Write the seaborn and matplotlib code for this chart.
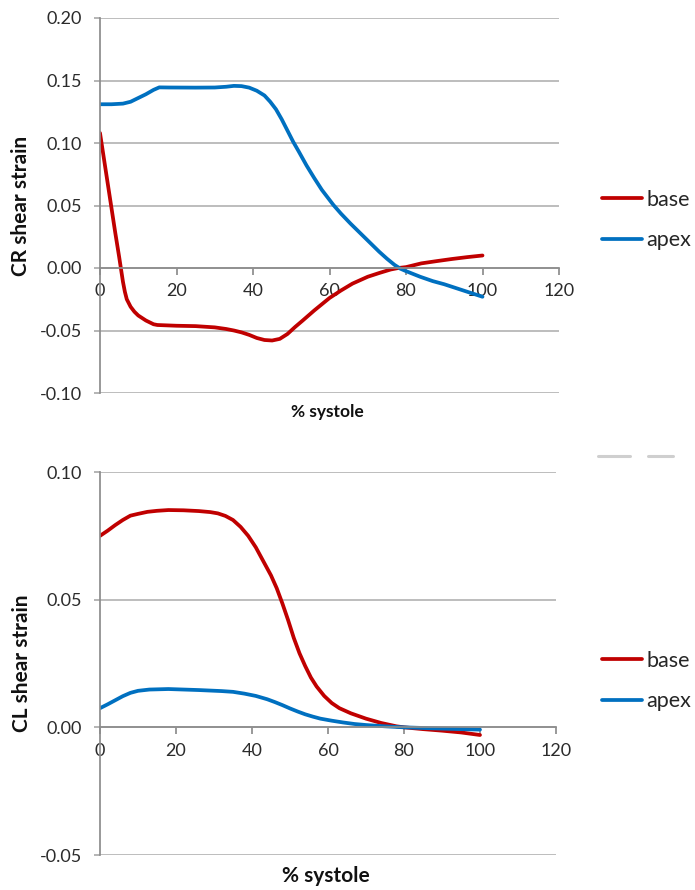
import numpy as np
import pandas as pd
import matplotlib.pyplot as plt
import seaborn as sns
from matplotlib.lines import Line2D

sns.set_theme(style="white")
plt.rcParams["font.family"] = ["Lato", "DejaVu Sans"]

# ============================================================
# Data
# ============================================================
# top panel: CR shear strain
cr_base_x = [0, 1, 2, 3, 4, 5, 5.5, 6, 6.5, 7, 8, 9, 10, 11, 12, 13, 14, 15, 20, 25, 30, 33,
             35, 37, 39, 41, 43, 45, 47, 49, 51, 53, 56, 60, 63, 66, 70, 73, 76, 78, 80, 84,
             88, 92, 96, 100]
cr_base_y = [0.108, 0.088, 0.068, 0.048, 0.028, 0.009, -0.001, -0.011, -0.019, -0.025, -0.031,
             -0.035, -0.038, -0.040, -0.042, -0.0435, -0.045, -0.0456, -0.0462, -0.0465, -0.0475,
             -0.0488, -0.050, -0.0515, -0.0535, -0.056, -0.0576, -0.058, -0.0567, -0.0528, -0.0472,
             -0.042, -0.034, -0.024, -0.018, -0.0125, -0.007, -0.004, -0.0012, 0.0, 0.0007,
             0.0037, 0.0055, 0.0072, 0.0087, 0.010]

cr_apex_x = [0, 3, 6, 8, 10, 12, 14, 15.5, 18, 25, 30, 33, 35, 37, 39, 41, 43, 44.5, 46, 47.5,
             49, 50.5, 52, 54, 56, 58, 61, 63, 65.5, 68, 70.5, 73, 75, 77, 78.5, 80, 83.7, 87,
             90, 95, 100]
cr_apex_y = [0.131, 0.131, 0.1315, 0.133, 0.136, 0.139, 0.1425, 0.1445, 0.1444, 0.1443, 0.1444,
             0.145, 0.1457, 0.1455, 0.1443, 0.1418, 0.138, 0.133, 0.127, 0.119, 0.110, 0.101,
             0.093, 0.082, 0.072, 0.0625, 0.0505, 0.0435, 0.0355, 0.028, 0.0205, 0.013, 0.0075,
             0.0025, -0.0005, -0.0025, -0.007, -0.0105, -0.013, -0.018, -0.023]

# bottom panel: CL shear strain
cl_base_x = [0, 2, 4, 6, 8, 10, 12.5, 15, 18, 22, 26, 29, 31, 33, 35, 37, 39, 41, 43, 45, 46.5,
             48, 49.5, 51, 52.5, 54, 55.5, 57, 59, 61, 63, 66, 70, 74, 78, 80, 85, 90, 95, 100]
cl_base_y = [0.0750, 0.0770, 0.0792, 0.0812, 0.0829, 0.0836, 0.0844, 0.0848, 0.0851, 0.0850,
             0.0847, 0.0843, 0.0838, 0.0828, 0.0812, 0.0785, 0.0750, 0.0705, 0.065, 0.0595,
             0.0545, 0.0485, 0.042, 0.035, 0.029, 0.024, 0.0195, 0.016, 0.0123, 0.0095, 0.0075,
             0.0055, 0.0034, 0.0017, 0.0004, 0.0, -0.0007, -0.0013, -0.002, -0.003]

cl_apex_x = [0, 2, 4, 6, 8, 10, 13, 18, 26, 32, 35, 38, 41, 44, 46, 48, 50, 52, 54, 56, 58, 61,
             64, 67, 70, 75, 80, 90, 100]
cl_apex_y = [0.0075, 0.009, 0.0106, 0.0122, 0.0135, 0.0143, 0.0148, 0.015, 0.0146, 0.0142,
             0.0139, 0.0132, 0.0123, 0.011, 0.0099, 0.0087, 0.0074, 0.0062, 0.0051, 0.0042,
             0.0034, 0.0026, 0.0019, 0.0013, 0.0009, 0.0004, 0.0, -0.0005, -0.0009]

series_names = ["base", "apex"]
colors = {"base": "#C00000", "apex": "#0070C0"}


def long_df(base_x, base_y, apex_x, apex_y):
    a = pd.DataFrame({"x": base_x, "y": base_y, "series": "base"})
    b = pd.DataFrame({"x": apex_x, "y": apex_y, "series": "apex"})
    return pd.concat([a, b], ignore_index=True)


cr = long_df(cr_base_x, cr_base_y, cr_apex_x, cr_apex_y)
cl = long_df(cl_base_x, cl_base_y, cl_apex_x, cl_apex_y)

fig = plt.figure(figsize=(6.95, 8.90), dpi=100)
ax1 = fig.add_axes([100 / 695, 1 - 393 / 890, 459 / 695, 375 / 890])
ax2 = fig.add_axes([100 / 695, 1 - 855 / 890, 456 / 695, 383 / 890])

grid_c = "#ababab"
axis_c = "#8c8c8c"


def style(ax, df, ylim, yticks, ylabel, xlabel_size, leg_y):
    sns.lineplot(data=df, x="x", y="y", hue="series", hue_order=series_names,
                 palette=colors, linewidth=2.7, ax=ax, legend=False, sort=False)
    ax.set_xlim(0, 120)
    ax.set_ylim(*ylim)
    ax.set_xticks(range(0, 121, 20))
    ax.set_yticks(yticks)
    ax.set_yticklabels([f"{v:.2f}" for v in yticks])
    ax.yaxis.grid(True, color=grid_c, linewidth=1.1)
    ax.xaxis.grid(False)
    ax.set_axisbelow(True)
    for s in ["top", "right"]:
        ax.spines[s].set_visible(False)
    ax.spines["left"].set_color(axis_c)
    ax.spines["bottom"].set_color(axis_c)
    ax.spines["bottom"].set_position(("data", 0))
    ax.tick_params(axis="y", direction="out", length=4, color=grid_c, pad=9,
                   labelsize=13, labelcolor="#2b2b2b", left=True)
    ax.tick_params(axis="x", direction="out", length=5, color=axis_c, pad=6,
                   labelsize=13, labelcolor="#2b2b2b", bottom=True)
    ax.set_ylabel(ylabel, fontsize=15, fontweight="bold", color="#111111")
    ax.yaxis.set_label_coords(-0.150, 0.5)
    ax.set_xlabel("% systole", fontsize=xlabel_size, fontweight="bold", color="#111111")
    ax.xaxis.set_label_coords(0.495, -0.028)
    handles = [Line2D([], [], color=colors[n], linewidth=2.7) for n in series_names]
    fig.legend(handles, series_names, loc="center left",
               bbox_to_anchor=(602 / 695, 1 - leg_y / 890), frameon=False,
               fontsize=15.5, handlelength=1.86, handletextpad=0.19,
               labelspacing=0.95, borderpad=0, borderaxespad=0)


style(ax1, cr, (-0.10, 0.20), [-0.10, -0.05, 0.00, 0.05, 0.10, 0.15, 0.20],
      "CR shear strain", 12.5, 220)
style(ax2, cl, (-0.05, 0.10), [-0.05, 0.00, 0.05, 0.10],
      "CL shear strain", 15, 681)

# small grey remnants between the panels
for x0, x1 in [(598, 630), (648, 673)]:
    fig.add_artist(Line2D([x0 / 695, x1 / 695], [1 - 456 / 890] * 2,
                          color="#cfcfcf", linewidth=2.2))

fig.savefig("out.png", dpi=100)
